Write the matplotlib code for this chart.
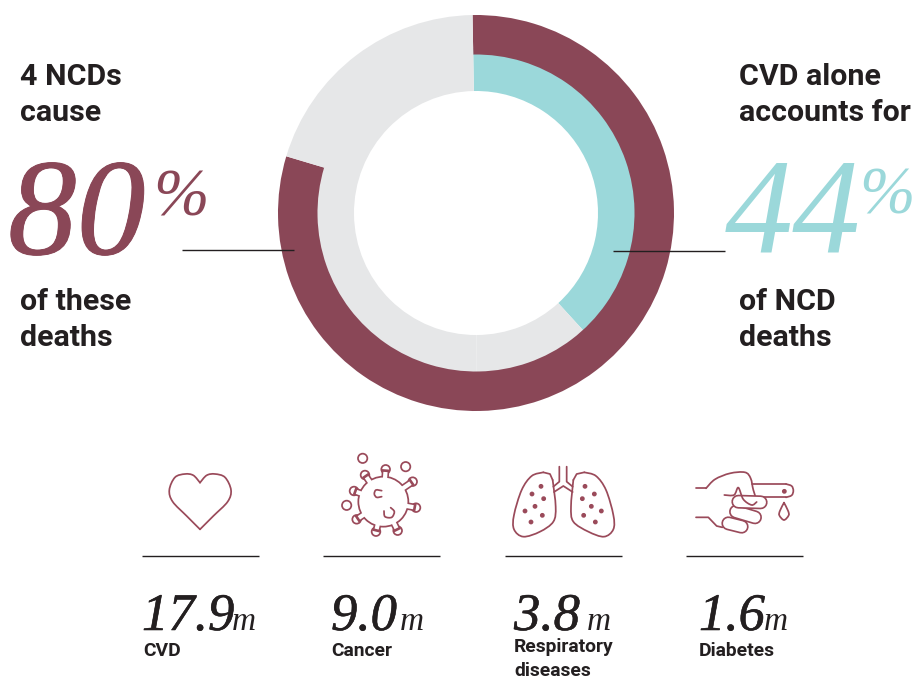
import numpy as np
import matplotlib
matplotlib.use("Agg")
import matplotlib.pyplot as plt
import matplotlib.patheffects as pe
from matplotlib.patches import Circle, PathPatch
from matplotlib.path import Path

# data
outer_vals = [79.9, 20.1]
inner_vals = [38.5, 11.7, 49.8]
stats = ["17.9", "9.0", "3.8", "1.6"]
stat_labels = ["CVD", "Cancer", "Respiratory\ndiseases", "Diabetes"]

wine = "#8a4757"
teal = "#9bd8da"
grey = "#e6e7e8"
dark = "#231f20"
icon_col = "#9a4a5a"
serif = "Liberation Serif"

stat_x = [142, 331, 514, 699]
unit_x = [232, 400, 587, 764]
rule_x = [142, 323, 505, 686]

plt.rcParams['font.family'] = ['Roboto', 'DejaVu Sans']

fig = plt.figure(figsize=(9.13, 6.78), dpi=100)

# rings (y up, same pixel scale as the picture)
pie_ax = fig.add_axes([0, 0, 1, 1], label="pie")
pie_ax.pie(inner_vals, colors=[teal, grey, grey], startangle=91, counterclock=False,
           center=(476, 678 - 213), radius=165, wedgeprops=dict(width=43, linewidth=0), frame=True)
pie_ax.pie(outer_vals, colors=[wine, grey], startangle=91, counterclock=False,
           center=(476, 678 - 213), radius=198, wedgeprops=dict(width=39.5, linewidth=0), frame=True)
pie_ax.set_xlim(0, 913)
pie_ax.set_ylim(0, 678)
pie_ax.axis("off")

# everything else in picture pixels, y down
ax = fig.add_axes([0, 0, 1, 1], label="top")
ax.set_xlim(0, 913)
ax.set_ylim(678, 0)
ax.axis("off")
ax.patch.set_alpha(0)


def bold(x, y, s):
    ax.text(x, y, s, fontsize=21.9, fontweight="bold", color=dark, va="center", ha="left", linespacing=1.4)


bold(20, 95, "4 NCDs\ncause")
bold(20, 320, "of these\ndeaths")
bold(739, 95, "CVD alone\naccounts for")
bold(739, 320, "of NCD\ndeaths")

thick = [pe.withStroke(linewidth=0.7, foreground=wine)]
ax.text(8, 254, "80", fontsize=99, family=serif, style="italic", color=wine, va="baseline", path_effects=thick)
ax.text(153, 215, "%", fontsize=48, family=serif, style="italic", color=wine, va="baseline")
ax.text(725, 252, "44", fontsize=98, family=serif, style="italic", color=teal, va="baseline")
ax.text(859, 213, "%", fontsize=48, family=serif, style="italic", color=teal, va="baseline")

# leader lines
ax.plot([182, 294], [250, 250], color=dark, lw=1, solid_capstyle="butt")
ax.plot([613, 725], [250.5, 250.5], color=dark, lw=1, solid_capstyle="butt")

# lower row
for x0, m0, r0, val, lab in zip(stat_x, unit_x, rule_x, stats, stat_labels):
    ax.plot([r0, r0 + 117], [556, 556], color=dark, lw=1, solid_capstyle="butt")
    ax.text(x0, 630, val, fontsize=38, family=serif, style="italic", color=dark, va="baseline", ha="left",
            path_effects=[pe.withStroke(linewidth=0.4, foreground=dark)])
    ax.text(m0, 630, "m", fontsize=24, family=serif, style="italic", color=dark, va="baseline", ha="left")
    ax.text(x0 + (1 if x0 == 142 else 0), 659 if "\n" in lab else 651, lab, fontsize=13.9, fontweight="bold",
            color=dark, va="center", ha="left", linespacing=1.4)


def px(pts, ox):
    p = np.array(pts, dtype=float) / 3
    return p + [ox, 440]


def smooth(pts, ox):
    p = px(pts, ox)
    p = np.vstack([p[0], p, p[-1]])
    verts = [p[1]]
    codes = [Path.MOVETO]
    for i in range(1, len(p) - 2):
        verts += [p[i] + (p[i + 1] - p[i - 1]) / 6, p[i + 1] - (p[i + 2] - p[i]) / 6, p[i + 1]]
        codes += [Path.CURVE4] * 3
    return Path(verts, codes)


def curve(pts, ox, z=2):
    ax.add_patch(PathPatch(smooth(pts, ox), fill=False, edgecolor=icon_col, lw=1.25, capstyle="round", zorder=z))


def line(pts, ox, z=2):
    p = px(pts, ox)
    ax.plot(p[:, 0], p[:, 1], color=icon_col, lw=1.25, solid_capstyle="round", solid_joinstyle="round", zorder=z)


def ring(x, y, r, ox, fill="none"):
    ax.add_patch(Circle(px([(x, y)], ox)[0], r / 3, facecolor=fill, edgecolor=icon_col, lw=1.25, zorder=3))


def dot(x, y, ox):
    ax.add_patch(Circle(px([(x, y)], ox)[0], 2.4, color=icon_col, lw=0))


def stadium(a, b, w, ox, z=3):
    # thick line with a white core gives a rounded outline
    p = px([a, b], ox)
    ax.plot(p[:, 0], p[:, 1], color=icon_col, lw=w * 0.72, solid_capstyle="round", zorder=z)
    ax.plot(p[:, 0], p[:, 1], color="white", lw=(w - 3.4) * 0.72, solid_capstyle="round", zorder=z)


# heart
curve([(210, 128), (190, 106), (165, 102), (135, 112), (118, 150), (128, 185), (170, 228), (210, 268)], 130)
curve([(210, 128), (230, 106), (255, 102), (285, 112), (303, 150), (293, 185), (250, 228), (210, 268)], 130)

# virus
vc = np.array([760, 185], dtype=float)
ring(vc[0], vc[1], 75, 130)
for b in [(705, 105), (767, 88), (848, 125), (858, 203), (803, 272), (738, 275), (680, 238), (672, 153)]:
    b = np.array(b, dtype=float)
    d = vc - b
    dist = np.hypot(*d)
    d = d / dist
    end = b + d * (dist - 75)
    seg = px([b, end], 130)
    ax.plot(seg[:, 0], seg[:, 1], color=icon_col, lw=7.5 * 0.72, solid_capstyle="butt", zorder=4)
    ring(b[0], b[1], 13, 130, fill="white")
    seg = px([b + d * 8, end + d * 6], 130)
    ax.plot(seg[:, 0], seg[:, 1], color="white", lw=4.2 * 0.72, solid_capstyle="butt", zorder=5)
for x, y in [(698, 55), (827, 80), (650, 196)]:
    ring(x, y, 14, 130)
curve([(755, 152), (738, 150), (733, 162), (740, 172), (755, 170)], 130)
curve([(762, 213), (765, 230), (785, 232), (793, 215), (782, 203)], 130)

# lungs
curve([(160, 97), (125, 108), (95, 150), (72, 225), (72, 268), (100, 290), (150, 275), (190, 245),
       (197, 200), (188, 120)], 490)
line([(188, 120), (180, 102), (160, 97)], 490)
curve([(283, 97), (318, 108), (348, 150), (370, 225), (370, 268), (342, 290), (295, 275), (250, 245),
       (243, 200), (250, 120)], 490)
line([(250, 120), (260, 102), (283, 97)], 490)
line([(208, 80), (208, 125), (190, 140)], 490)
line([(230, 80), (230, 125), (248, 140)], 490)
line([(192, 156), (220, 138), (248, 156)], 490)
for x, y in [(153, 139), (126, 162), (161, 176), (135, 199), (105, 213), (157, 226), (123, 246),
             (285, 139), (313, 162), (277, 176), (304, 199), (334, 213), (281, 226), (316, 246)]:
    dot(x, y, 490)

# hand
line([(618, 145), (648, 145)], 490)
curve([(648, 145), (675, 118), (720, 100), (765, 97), (782, 115), (790, 150), (803, 190)], 490)
line([(787, 132), (888, 132)], 490)
curve([(888, 132), (905, 138), (910, 152), (905, 166), (888, 172)], 490)
line([(888, 172), (818, 172)], 490)
dot(883, 154, 490)
curve([(882, 188), (870, 212), (868, 226), (882, 240), (896, 226), (894, 212), (882, 188)], 490)
line([(618, 232), (655, 232), (680, 258), (697, 262)], 490)
stadium((715, 250), (755, 260), 14, 490, z=3)
stadium((738, 215), (795, 232), 14, 490, z=4)
stadium((745, 185), (812, 187), 14, 490, z=5)
curve([(703, 165), (732, 165), (745, 143), (760, 178), (785, 195), (800, 186)], 490, z=6)

fig.savefig("out.png", dpi=100)
